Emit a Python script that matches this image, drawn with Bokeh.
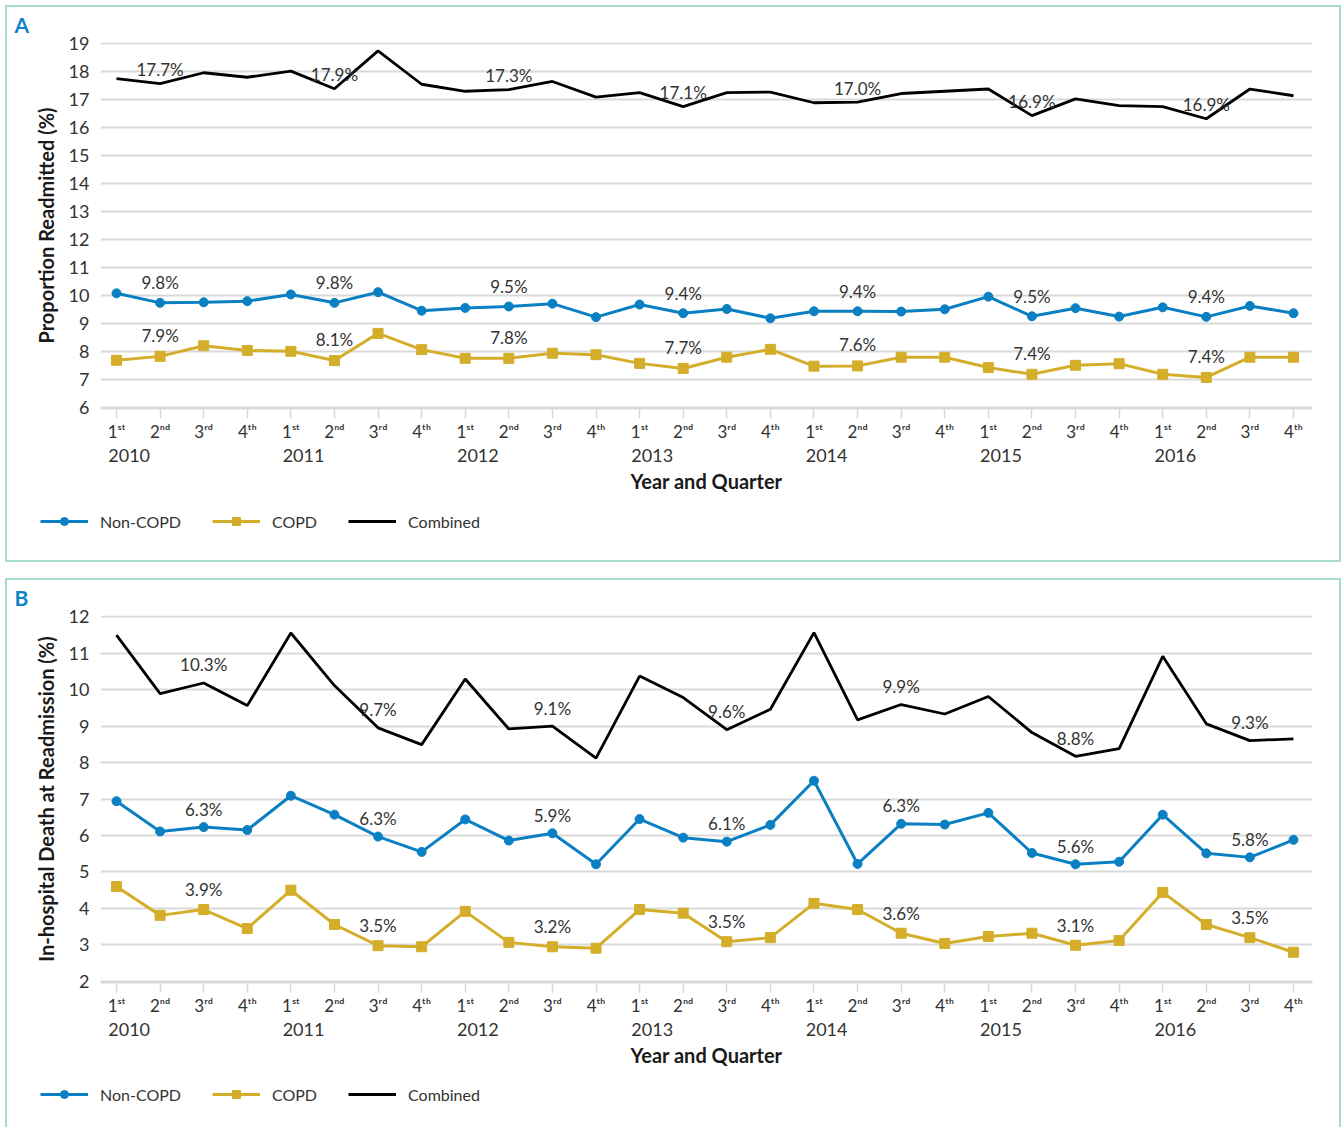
from bokeh.plotting import figure
from bokeh.models import FixedTicker, LinearAxis, Range1d, Legend, LegendItem
from bokeh.layouts import column
from bokeh.embed import file_html
from bokeh.resources import INLINE
from bokeh.core.properties import value

# ---------------- data ----------------
years = ["2010", "2011", "2012", "2013", "2014", "2015", "2016"]
quarters = ["1ˢᵗ", "2ⁿᵈ", "3ʳᵈ", "4ᵗʰ"]
series_names = ["Non-COPD", "COPD", "Combined"]

# Panel A: proportion readmitted (%)
a_non_copd = [10.08, 9.74, 9.76, 9.80, 10.04, 9.74, 10.12, 9.46,
              9.56, 9.61, 9.71, 9.23, 9.68, 9.37, 9.52, 9.19,
              9.44, 9.44, 9.43, 9.51, 9.96, 9.26, 9.55, 9.25,
              9.58, 9.24, 9.63, 9.37]
a_copd = [7.69, 7.83, 8.21, 8.04, 8.01, 7.68, 8.65, 8.07,
          7.76, 7.76, 7.94, 7.89, 7.58, 7.40, 7.80, 8.08,
          7.48, 7.49, 7.80, 7.80, 7.43, 7.19, 7.51, 7.57,
          7.19, 7.08, 7.80, 7.80]
a_combined = [17.74, 17.56, 17.95, 17.79, 18.01, 17.38, 18.73, 17.54,
              17.29, 17.35, 17.64, 17.08, 17.24, 16.74, 17.24, 17.26,
              16.88, 16.90, 17.21, 17.29, 17.37, 16.42, 17.02, 16.78,
              16.74, 16.31, 17.37, 17.13]
a_non_copd_year = [9.8, 9.8, 9.5, 9.4, 9.4, 9.5, 9.4]
a_copd_year = [7.9, 8.1, 7.8, 7.7, 7.6, 7.4, 7.4]
a_combined_year = [17.7, 17.9, 17.3, 17.1, 17.0, 16.9, 16.9]

# Panel B: in-hospital death at readmission (%)
b_non_copd = [6.94, 6.11, 6.23, 6.15, 7.09, 6.57, 5.97, 5.55,
              6.44, 5.86, 6.06, 5.21, 6.45, 5.94, 5.83, 6.29,
              7.50, 5.22, 6.32, 6.30, 6.62, 5.52, 5.21, 5.28,
              6.57, 5.51, 5.40, 5.88]
b_copd = [4.60, 3.81, 3.97, 3.45, 4.50, 3.56, 2.98, 2.95,
          3.92, 3.07, 2.95, 2.91, 3.97, 3.87, 3.09, 3.20,
          4.14, 3.97, 3.32, 3.04, 3.23, 3.32, 2.99, 3.12,
          4.44, 3.56, 3.20, 2.80]
b_combined = [11.49, 9.89, 10.18, 9.56, 11.55, 10.11, 8.95, 8.49,
              10.29, 8.92, 9.00, 8.12, 10.37, 9.78, 8.90, 9.46,
              11.56, 9.17, 9.59, 9.33, 9.81, 8.82, 8.17, 8.38,
              10.91, 9.06, 8.60, 8.65]
b_non_copd_year = [6.3, 6.3, 5.9, 6.1, 6.3, 5.6, 5.8]
b_copd_year = [3.9, 3.5, 3.2, 3.5, 3.6, 3.1, 3.5]
b_combined_year = [10.3, 9.7, 9.1, 9.6, 9.9, 8.8, 9.3]

# ---------------- style ----------------
FONT = "Lato"
BLUE = "#0a80c2"
GOLD = "#d4ae2b"
BLACK = "#000000"
GRID = "#d9d9d9"
TXT = "#333333"
LETTER = "#0b85c7"
BORDER = "#a6dccf"
W = 1336


def make_chart(letter, ylabel, ystart, yend, non, copd, comb,
               non_y, copd_y, comb_y, label_q, offs,
               height, top, bottom, margin):
    n = len(non)
    xs = list(range(n))
    x0, x1 = -0.367, n - 1 + 0.436
    pad = 0.03
    p = figure(width=W, height=height,
               x_range=Range1d(x0, x1), y_range=Range1d(ystart - pad, yend + pad),
               output_backend="svg", toolbar_location=None,
               min_border_left=93, min_border_right=31,
               min_border_top=top, min_border_bottom=bottom)
    p.styles = {"border": f"2px solid {BORDER}", "border-bottom": "none"}
    p.margin = margin
    p.outline_line_color = None

    # panel letter
    p.title.text = letter
    p.title.align = "left"
    p.title.vertical_align = "top"
    p.title.offset = -86
    p.title.standoff = 8
    p.title.text_font = FONT
    p.title.text_font_style = "bold"
    p.title.text_font_size = "21px"
    p.title.text_color = LETTER

    # grid
    p.xgrid.grid_line_color = None
    p.ygrid.ticker = FixedTicker(ticks=list(range(ystart, yend + 1)))
    p.ygrid.grid_line_color = GRID
    p.ygrid.grid_line_width = 2

    # y axis
    ya = p.yaxis[0]
    ya.ticker = FixedTicker(ticks=list(range(ystart, yend + 1)))
    ya.axis_line_color = None
    ya.major_tick_line_color = None
    ya.minor_tick_line_color = None
    ya.major_label_standoff = 5
    ya.major_label_text_font = FONT
    ya.major_label_text_font_size = "18px"
    ya.major_label_text_color = TXT
    ya.axis_label = ylabel
    ya.axis_label_text_font = FONT
    ya.axis_label_text_font_style = "bold"
    ya.axis_label_text_font_size = "20px"
    ya.axis_label_text_color = "#1a1a1a"
    ya.axis_label_standoff = 8

    # x axis: quarters
    xa = p.xaxis[0]
    xa.ticker = FixedTicker(ticks=xs)
    xa.major_label_overrides = {i: quarters[i % 4] for i in xs}
    xa.axis_line_color = GRID
    xa.axis_line_width = 2
    xa.major_tick_line_color = GRID
    xa.major_tick_line_width = 1.5
    xa.major_tick_out = 10
    xa.major_tick_in = 0
    xa.minor_tick_line_color = None
    xa.major_label_standoff = 2
    xa.major_label_text_font = FONT
    xa.major_label_text_font_size = "17px"
    xa.major_label_text_color = TXT

    # x axis: years
    shift = 0.29
    p.extra_x_ranges = {"yr": Range1d(x0 - shift, x1 - shift)}
    year_ticks = [4 * k for k in range(len(years))]
    yax = LinearAxis(x_range_name="yr", ticker=FixedTicker(ticks=year_ticks),
                     major_label_overrides={t: years[k] for k, t in enumerate(year_ticks)},
                     axis_line_color=None, major_tick_line_color=None,
                     minor_tick_line_color=None, major_tick_out=0, major_tick_in=0,
                     major_label_standoff=4,
                     major_label_text_font=FONT, major_label_text_font_size="18px",
                     major_label_text_color=TXT,
                     axis_label="Year and Quarter", axis_label_text_font=FONT,
                     axis_label_text_font_style="bold", axis_label_text_font_size="20px",
                     axis_label_text_color="#1a1a1a", axis_label_standoff=4)
    p.add_layout(yax, "below")

    # series
    p.line(xs, comb, color=BLACK, line_width=2.8)
    p.line(xs, non, color=BLUE, line_width=3)
    p.scatter(xs, non, marker="circle", size=9, color=BLUE)
    p.line(xs, copd, color=GOLD, line_width=3)
    p.scatter(xs, copd, marker="square", size=10, color=GOLD)

    # yearly labels
    lx = [4 * k + label_q for k in range(len(years))]
    for series, yearly, off in ((comb, comb_y, offs[0]), (non, non_y, offs[1]), (copd, copd_y, offs[2])):
        p.text(x=lx, y=[series[i] for i in lx], text=[f"{v:.1f}%" for v in yearly],
               text_align="center", text_baseline="middle", y_offset=-off,
               text_font=value(FONT), text_font_size="17px", text_color=TXT)
    return p


def make_legend(height, loc, styles, margin):
    q = figure(width=W, height=height, x_range=Range1d(0, 1), y_range=Range1d(0, 1),
               output_backend="svg", toolbar_location=None,
               x_axis_location=None, y_axis_location=None,
               min_border_left=0, min_border_right=0, min_border_top=0, min_border_bottom=0)
    q.frame_align = False
    q.styles = styles
    q.margin = margin
    q.outline_line_color = None
    q.xgrid.grid_line_color = None
    q.ygrid.grid_line_color = None
    # off-range sample marks: only their legend swatches are seen
    hx, hy = [-5, -4], [-5, -5]
    r_nl = q.line(hx, hy, color=BLUE, line_width=3)
    r_nm = q.scatter(hx, hy, marker="circle", size=9, color=BLUE)
    r_gl = q.line(hx, hy, color=GOLD, line_width=3)
    r_gm = q.scatter(hx, hy, marker="square", size=10, color=GOLD)
    r_cl = q.line(hx, hy, color=BLACK, line_width=3)
    legend = Legend(items=[LegendItem(label=series_names[0], renderers=[r_nl, r_nm]),
                           LegendItem(label=series_names[1], renderers=[r_gl, r_gm]),
                           LegendItem(label=series_names[2], renderers=[r_cl])],
                    location=loc, orientation="horizontal",
                    glyph_width=48, glyph_height=20, label_standoff=12, spacing=31,
                    padding=0, margin=0, border_line_color=None, background_fill_alpha=0,
                    label_text_font=FONT, label_text_font_size="16px", label_text_color=TXT)
    q.add_layout(legend)
    return q


pA = make_chart("A", "Proportion Readmitted (%)", 6, 19,
                a_non_copd, a_copd, a_combined,
                a_non_copd_year, a_copd_year, a_combined_year, 1, (14, 20, 21),
                height=497, top=35, bottom=96, margin=(5, 0, 0, 5))
lA = make_legend(60, (33, 31),
                 {"border": f"2px solid {BORDER}", "border-top": "none"}, (0, 0, 0, 5))
pB = make_chart("B", "In-hospital Death at Readmission (%)", 2, 12,
                b_non_copd, b_copd, b_combined,
                b_non_copd_year, b_copd_year, b_combined_year, 2, (18, 18, 20),
                height=498, top=35, bottom=96, margin=(16, 0, 0, 5))
lB = make_legend(51, (33, 23),
                 {"border": f"2px solid {BORDER}", "border-top": "none", "border-bottom": "none"},
                 (0, 0, 0, 5))

layout = column(pA, lA, pB, lB)
open("out.html", "w").write(file_html(layout, INLINE))
